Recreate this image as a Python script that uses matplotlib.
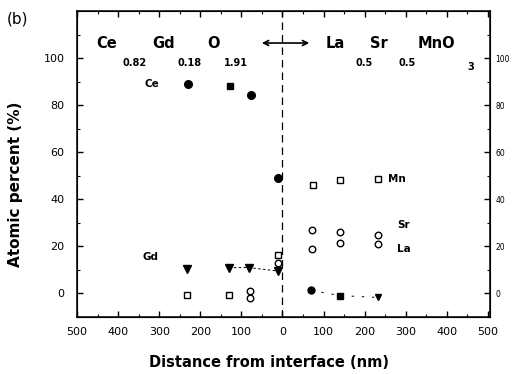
import matplotlib
matplotlib.use("Agg")
import matplotlib.pyplot as plt

plt.rcParams['font.family'] = ['DejaVu Sans']

# ---- data ----
ce_x = [-230, -128, -76, -10]
ce_y = [89, 88, 84.5, 49]
ce_markers = ['o', 's', 'o', 'o']

gd_left_x = [-233, -130, -82, -10]
gd_left_y = [10.6, 11, 11, 9.5]
gd_right_x = [70, 140, 233]
gd_right_y = [1.3, -0.9, -1.7]
gd_right_markers = ['o', 's', 'v']

mn_x = [-233, -130, -10, 74, 140, 233]
mn_y = [-0.5, -0.5, 16.5, 46, 48, 48.5]

sr_x = [-80, 72, 140, 233]
sr_y = [1, 27, 26, 25]

la_x = [-80, -10, 72, 140, 233]
la_y = [-2, 13, 19, 21.5, 21]

xticks = [-500, -400, -300, -200, -100, 0, 100, 200, 300, 400, 500]
xticklabels = ['500', '400', '300', '200', '100', '0', '100', '200', '300', '400', '500']
yticks = [0, 20, 40, 60, 80, 100]

fig = plt.figure(figsize=(5.24, 3.74), dpi=100)
ax = fig.add_axes([77/524, 1 - 317/374, (490 - 77)/524, (317 - 11)/374])
ax.set_xlim(-500, 505)
ax.set_ylim(-10, 120)

# vertical interface line
ax.axvline(0, color='black', lw=0.9, ls=(0, (6, 4)), zorder=1)

ms = 5.5
# Ce
for x, y, m in zip(ce_x, ce_y, ce_markers):
    ax.plot([x], [y], marker=m, ms=ms if m == 'o' else ms - 0.8, color='black', ls='none', zorder=3)
# Gd
ax.plot(gd_left_x[1:], gd_left_y[1:], color='black', lw=0.7, ls=(0, (2.5, 2.5)), zorder=2)
ax.plot(gd_left_x, gd_left_y, marker='v', ms=ms, color='black', ls='none', zorder=3)
ax.plot(gd_right_x, gd_right_y, color='black', lw=0.7, ls=(0, (2.5, 8)), zorder=2)
for x, y, m in zip(gd_right_x, gd_right_y, gd_right_markers):
    ax.plot([x], [y], marker=m, ms=ms - 0.5, color='black', ls='none', zorder=3)
# Mn, Sr, La (open)
ax.plot(mn_x, mn_y, marker='s', ms=ms - 0.8, mfc='white', mec='black', mew=1.0, ls='none', zorder=3)
ax.plot(sr_x, sr_y, marker='o', ms=ms - 0.8, mfc='white', mec='black', mew=1.0, ls='none', zorder=3)
ax.plot(la_x, la_y, marker='o', ms=ms - 0.8, mfc='white', mec='black', mew=1.0, ls='none', zorder=3)

# element labels
lab_kw = dict(fontsize=7.5, fontweight='bold', va='center', ha='left')
ax.text(-335, 88.9, 'Ce', **lab_kw)
ax.text(-340, 15.7, 'Gd', **lab_kw)
ax.text(257, 48.5, 'Mn', **lab_kw)
ax.text(279, 28.9, 'Sr', **lab_kw)
ax.text(279, 19.1, 'La', **lab_kw)

# compositions
big = dict(fontsize=10.5, fontweight='bold', va='center', ha='left')
small = dict(fontsize=7, fontweight='bold', va='center', ha='left')
ax.text(-452, 106.4, 'Ce', **big)
ax.text(-389, 97.9, '0.82', **small)
ax.text(-318, 106.4, 'Gd', **big)
ax.text(-255, 97.9, '0.18', **small)
ax.text(-182, 106.4, 'O', **big)
ax.text(-143, 97.9, '1.91', **small)
ax.text(104, 106.4, 'La', **big)
ax.text(177, 97.9, '0.5', **small)
ax.text(213, 106.4, 'Sr', **big)
ax.text(282, 97.9, '0.5', **small)
ax.text(330, 106.4, 'MnO', **big)
ax.text(450, 96.2, '3', **small)
ax.annotate('', xy=(-57, 106.4), xytext=(72, 106.4),
            arrowprops=dict(arrowstyle='<->', color='black', lw=1.2, mutation_scale=9))

# ticks
ax.set_xticks(xticks)
ax.set_xticklabels(xticklabels)
ax.set_xticks(range(-450, 501, 100), minor=True)
ax.set_yticks(yticks)
ax.set_yticks(range(-10, 121, 10), minor=True)
ax.tick_params(which='both', direction='in', top=True, right=False, labelsize=8)
ax.tick_params(axis='x', which='major', pad=7)
ax.tick_params(axis='y', which='major', pad=9)
ax.tick_params(which='major', length=4.5, width=1.0)
ax.tick_params(which='minor', length=2.5, width=0.8)
for s in ax.spines.values():
    s.set_linewidth(1.1)

axr = ax.twinx()
axr.set_ylim(ax.get_ylim())
axr.set_yticks(yticks)
axr.set_yticklabels([str(v) for v in yticks])
axr.set_yticks(range(-10, 121, 10), minor=True)
axr.tick_params(which='both', direction='in', labelsize=5.5, pad=4)
axr.tick_params(which='major', length=4.5, width=1.0)
axr.tick_params(which='minor', length=2.5, width=0.8)

ax.set_xlabel('Distance from interface (nm)', fontsize=10.5, fontweight='bold')
ax.xaxis.set_label_coords(0.465, -0.125)
ax.set_ylabel('Atomic percent (%)', fontsize=11, fontweight='bold')
ax.yaxis.set_label_coords(-0.13, 0.435)

fig.text(7/524, 1 - 19/374, '(b)', fontsize=11, va='center', ha='left')

fig.savefig('out.png', dpi=100)
